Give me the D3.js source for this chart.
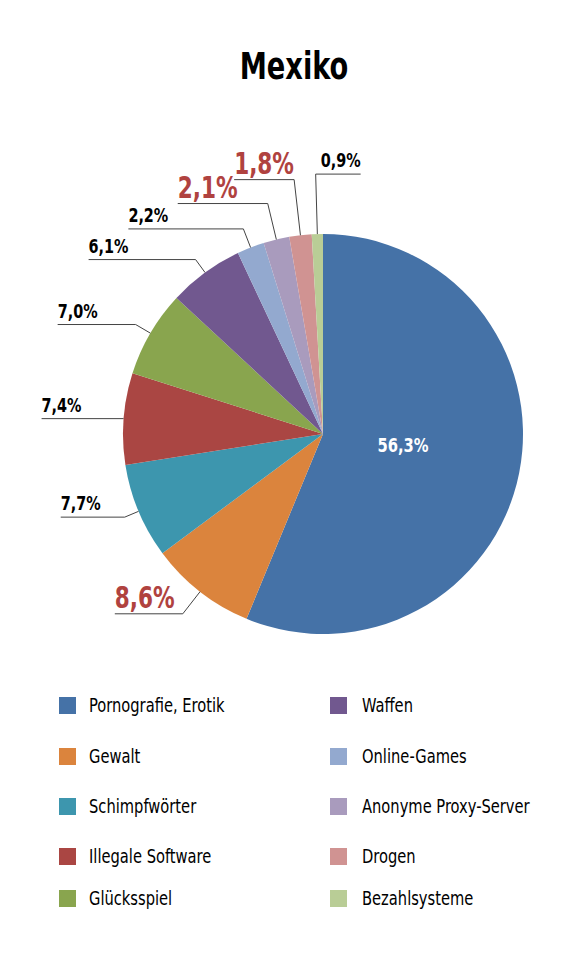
<!DOCTYPE html>
<html>
<head>
<meta charset="utf-8">
<script src="https://cdn.jsdelivr.net/npm/d3@7"></script>
<style>
  html, body { margin: 0; padding: 0; background: #fff; }
  svg { display: block; font-family: "Liberation Sans Narrow", "DejaVu Sans Condensed", "Liberation Sans", sans-serif; }
</style>
</head>
<body>
<div id="chart"></div>
<script>
// data
const categories = ['Pornografie, Erotik', 'Gewalt', 'Schimpfwörter', 'Illegale Software', 'Glücksspiel',
  'Waffen', 'Online-Games', 'Anonyme Proxy-Server', 'Drogen', 'Bezahlsysteme'];
const values = [56.3, 8.6, 7.7, 7.4, 7.0, 6.1, 2.2, 2.1, 1.8, 0.9];
const highlighted = ['Gewalt', 'Anonyme Proxy-Server', 'Drogen'];
const colors = ['#4572a7', '#db843d', '#3d96ae', '#aa4643', '#89a54e',
  '#71588f', '#93a9cf', '#a99bbd', '#d09392', '#b9cd96'];

// leader layout: radial stub length, horizontal run (negative = to the left)
const leaderStub = [0, 28, 15, 0, 17, 16, 20, 37, 56, 60];
const leaderRun = [0, -68, -64, -82, -78, -107, -115, -90, -60, 45];

const W = 584, H = 979;
const cx = 323, cy = 434, R = 200;
const SX = 0.8; // squeeze text horizontally, the original uses a condensed face
const fmt = v => d3.format('.1f')(v).replace('.', ',') + '%';

const svg = d3.select('#chart').append('svg')
  .attr('width', W).attr('height', H);

function label(parent, x, y, sx) {
  return parent.append('text')
    .attr('transform', `translate(${x},${y}) scale(${sx},1)`);
}

label(svg, 294, 79, 0.82)
  .attr('text-anchor', 'middle')
  .attr('font-size', 37).attr('font-weight', 'bold')
  .attr('fill', '#000')
  .text('Mexiko');

const data = categories.map((c, i) => ({ name: c, value: values[i], color: colors[i], i }));

const pie = d3.pie().sort(null).value(d => d.value);
const arcs = pie(data);
const arc = d3.arc().innerRadius(0).outerRadius(R);

const g = svg.append('g').attr('transform', `translate(${cx},${cy})`);

g.selectAll('path.slice')
  .data(arcs)
  .join('path')
  .attr('class', 'slice')
  .attr('d', arc)
  .attr('fill', d => d.data.color);

// big slice label inside
label(g, 80, 18, 0.82)
  .attr('text-anchor', 'middle')
  .attr('font-size', 20).attr('font-weight', 'bold')
  .attr('fill', '#fff')
  .text(fmt(arcs[0].data.value));

// outside labels with leaders
arcs.slice(1).forEach(a => {
  const i = a.data.i;
  const mid = (a.startAngle + a.endAngle) / 2;
  const dx = Math.sin(mid), dy = -Math.cos(mid);
  const x0 = dx * R, y0 = dy * R;
  const x1 = dx * (R + leaderStub[i]), y1 = dy * (R + leaderStub[i]);
  const x2 = x1 + leaderRun[i];
  g.append('polyline')
    .attr('points', [[x0, y0], [x1, y1], [x2, y1]].map(p => p.join(',')).join(' '))
    .attr('fill', 'none')
    .attr('stroke', '#444')
    .attr('stroke-width', 1);
  const hi = highlighted.includes(a.data.name);
  label(g, leaderRun[i] < 0 ? x2 : x1 + 5, y1 - (hi ? 6 : 7), SX)
    .attr('font-size', hi ? 30 : 20)
    .attr('font-weight', 'bold')
    .attr('fill', hi ? '#b0423f' : '#000')
    .text(fmt(a.data.value));
});

// legend
const legend = svg.append('g');
const rowY = [705, 756, 806, 856, 898];
const colX = [59, 330];
data.forEach((d, i) => {
  const col = i < 5 ? 0 : 1, row = i % 5;
  const lg = legend.append('g')
    .attr('transform', `translate(${colX[col]},${rowY[row]})`);
  lg.append('rect')
    .attr('x', 0).attr('y', -8)
    .attr('width', 17).attr('height', 17)
    .attr('fill', d.color);
  label(lg, col === 0 ? 30 : 32, 7, 0.86)
    .attr('font-size', 19)
    .attr('fill', '#000')
    .text(d.name);
});
</script>
</body>
</html>
